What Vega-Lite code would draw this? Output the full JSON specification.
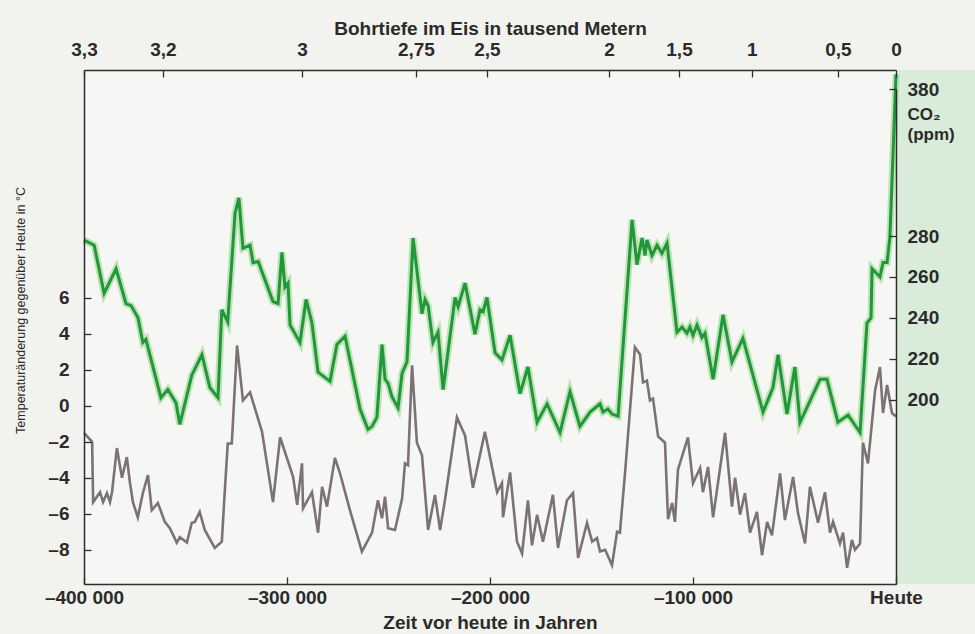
{
  "$schema": "https://vega.github.io/schema/vega-lite/v6.json",
  "width": 812,
  "height": 514,
  "autosize": {"type": "none"},
  "padding": {"left": 84, "top": 70, "right": 79, "bottom": 50},
  "background": "#f2f2ef",
  "config": {
    "view": {"stroke": null, "fill": "#f6f6f4"},
    "axis": {
      "grid": false,
      "domainColor": "#2e2e2e",
      "domainWidth": 1.5,
      "tickColor": "#2e2e2e",
      "tickWidth": 1.3,
      "tickSize": -7,
      "labelFont": "Liberation Sans",
      "labelFontWeight": "bold",
      "labelFontSize": 19,
      "labelColor": "#2b2b2b",
      "titleFont": "Liberation Sans",
      "titleFontWeight": "bold",
      "titleFontSize": 19,
      "titleColor": "#2b2b2b",
      "labelFlush": false,
      "labelOverlap": false,
      "labelBound": false
    }
  },
  "datasets": {
    "temp": [
      {"t": -400000, "temp": -1.5}, {"t": -396000, "temp": -2.0}, {"t": -395500, "temp": -5.35}, {"t": -392100, "temp": -4.8},
      {"t": -390600, "temp": -5.35}, {"t": -388700, "temp": -4.85}, {"t": -387200, "temp": -5.35}, {"t": -386200, "temp": -4.8},
      {"t": -383800, "temp": -2.35}, {"t": -381300, "temp": -4.0}, {"t": -378900, "temp": -2.85}, {"t": -377400, "temp": -4.25},
      {"t": -375900, "temp": -5.35}, {"t": -373500, "temp": -6.2}, {"t": -371000, "temp": -4.85}, {"t": -368500, "temp": -3.85},
      {"t": -366600, "temp": -5.8}, {"t": -363600, "temp": -5.4}, {"t": -360200, "temp": -6.45}, {"t": -357700, "temp": -6.8},
      {"t": -354300, "temp": -7.6}, {"t": -352800, "temp": -7.3}, {"t": -349300, "temp": -7.6}, {"t": -346900, "temp": -6.5},
      {"t": -345400, "temp": -6.45}, {"t": -343000, "temp": -5.9}, {"t": -340500, "temp": -6.9}, {"t": -335600, "temp": -7.9},
      {"t": -332100, "temp": -7.55}, {"t": -330700, "temp": -4.85}, {"t": -329200, "temp": -2.1}, {"t": -327200, "temp": -2.1},
      {"t": -324600, "temp": 3.35}, {"t": -321700, "temp": 0.3}, {"t": -318200, "temp": 0.75}, {"t": -312300, "temp": -1.45},
      {"t": -306900, "temp": -5.35}, {"t": -303400, "temp": -1.75}, {"t": -297000, "temp": -3.95}, {"t": -295000, "temp": -5.5},
      {"t": -292600, "temp": -3.2}, {"t": -292100, "temp": -5.7}, {"t": -287700, "temp": -4.8}, {"t": -284700, "temp": -7.05},
      {"t": -282700, "temp": -4.5}, {"t": -280300, "temp": -5.6}, {"t": -276400, "temp": -2.9}, {"t": -273900, "temp": -3.75},
      {"t": -269000, "temp": -5.8}, {"t": -263100, "temp": -8.1}, {"t": -258100, "temp": -7.05}, {"t": -255200, "temp": -5.25},
      {"t": -253200, "temp": -6.25}, {"t": -251700, "temp": -5.05}, {"t": -250200, "temp": -6.8}, {"t": -246800, "temp": -6.9},
      {"t": -243300, "temp": -5.15}, {"t": -241900, "temp": -3.2}, {"t": -240400, "temp": -3.3}, {"t": -238400, "temp": 2.25},
      {"t": -236000, "temp": -2.05}, {"t": -233500, "temp": -2.75}, {"t": -230500, "temp": -6.9}, {"t": -227100, "temp": -4.95},
      {"t": -224600, "temp": -6.9}, {"t": -222200, "temp": -5.25}, {"t": -216300, "temp": -0.65}, {"t": -212300, "temp": -1.65},
      {"t": -208400, "temp": -4.55}, {"t": -202500, "temp": -1.45}, {"t": -196500, "temp": -4.8}, {"t": -194100, "temp": -4.3},
      {"t": -193600, "temp": -6.2}, {"t": -190100, "temp": -3.7}, {"t": -186700, "temp": -7.55}, {"t": -184200, "temp": -8.2},
      {"t": -181300, "temp": -5.25}, {"t": -179300, "temp": -7.75}, {"t": -176800, "temp": -6.05}, {"t": -173900, "temp": -7.55},
      {"t": -169000, "temp": -4.95}, {"t": -166500, "temp": -7.9}, {"t": -162100, "temp": -5.25}, {"t": -159100, "temp": -4.85},
      {"t": -156600, "temp": -8.45}, {"t": -152200, "temp": -6.5}, {"t": -149700, "temp": -7.55}, {"t": -147300, "temp": -7.35},
      {"t": -145800, "temp": -8.1}, {"t": -143300, "temp": -8.0}, {"t": -139900, "temp": -8.85}, {"t": -137400, "temp": -7.0},
      {"t": -136000, "temp": -7.05}, {"t": -133500, "temp": -3.75}, {"t": -128600, "temp": 3.25}, {"t": -126100, "temp": 2.85},
      {"t": -124600, "temp": 1.3}, {"t": -122700, "temp": 1.4}, {"t": -121200, "temp": 0.3}, {"t": -119700, "temp": 0.4},
      {"t": -117200, "temp": -1.7}, {"t": -113800, "temp": -2.05}, {"t": -112300, "temp": -6.3}, {"t": -110300, "temp": -5.4},
      {"t": -108900, "temp": -6.45}, {"t": -107400, "temp": -3.55}, {"t": -102500, "temp": -1.75}, {"t": -100000, "temp": -4.3},
      {"t": -96500, "temp": -3.45}, {"t": -95100, "temp": -4.8}, {"t": -92600, "temp": -3.4}, {"t": -90100, "temp": -6.2},
      {"t": -84200, "temp": -1.5}, {"t": -80800, "temp": -5.6}, {"t": -79300, "temp": -4.0}, {"t": -76800, "temp": -6.05},
      {"t": -74400, "temp": -4.85}, {"t": -71900, "temp": -7.05}, {"t": -68500, "temp": -5.9}, {"t": -66000, "temp": -8.3},
      {"t": -63500, "temp": -6.45}, {"t": -61100, "temp": -7.2}, {"t": -57100, "temp": -3.75}, {"t": -54700, "temp": -6.35},
      {"t": -50700, "temp": -3.95}, {"t": -48300, "temp": -5.95}, {"t": -44800, "temp": -7.65}, {"t": -42400, "temp": -4.5},
      {"t": -38400, "temp": -6.5}, {"t": -35000, "temp": -4.8}, {"t": -32500, "temp": -7.05}, {"t": -31000, "temp": -6.45},
      {"t": -27600, "temp": -7.65}, {"t": -26100, "temp": -7.05}, {"t": -24100, "temp": -9.0}, {"t": -21700, "temp": -7.45},
      {"t": -20200, "temp": -8.0}, {"t": -17700, "temp": -7.65}, {"t": -16300, "temp": -2.05}, {"t": -13800, "temp": -3.2},
      {"t": -10300, "temp": 0.85}, {"t": -7900, "temp": 2.15}, {"t": -6400, "temp": -0.4}, {"t": -4400, "temp": 1.15},
      {"t": -2000, "temp": -0.4}, {"t": 0, "temp": -0.6}
    ],
    "co2": [
      {"t": -400000, "co2": 278}, {"t": -395000, "co2": 275.5}, {"t": -390100, "co2": 252}, {"t": -384200, "co2": 264},
      {"t": -379300, "co2": 247}, {"t": -376800, "co2": 246}, {"t": -373400, "co2": 240}, {"t": -371000, "co2": 228},
      {"t": -369500, "co2": 229.5}, {"t": -362100, "co2": 201}, {"t": -358700, "co2": 205}, {"t": -354700, "co2": 198.5},
      {"t": -352800, "co2": 188}, {"t": -346900, "co2": 212}, {"t": -341900, "co2": 222}, {"t": -338000, "co2": 206},
      {"t": -334000, "co2": 201}, {"t": -332100, "co2": 244}, {"t": -329200, "co2": 238}, {"t": -325600, "co2": 295.5},
      {"t": -323700, "co2": 306}, {"t": -321700, "co2": 274}, {"t": -318200, "co2": 275.5}, {"t": -316700, "co2": 267},
      {"t": -314200, "co2": 267.5}, {"t": -306900, "co2": 248}, {"t": -304400, "co2": 247}, {"t": -302500, "co2": 272},
      {"t": -301000, "co2": 255}, {"t": -299500, "co2": 257}, {"t": -298500, "co2": 236.5}, {"t": -293600, "co2": 228},
      {"t": -290600, "co2": 249}, {"t": -287700, "co2": 237.5}, {"t": -284700, "co2": 213.5}, {"t": -278800, "co2": 209},
      {"t": -275400, "co2": 227}, {"t": -271400, "co2": 231}, {"t": -264000, "co2": 195.5}, {"t": -260100, "co2": 185.5},
      {"t": -258100, "co2": 187}, {"t": -255700, "co2": 191.5}, {"t": -253200, "co2": 227}, {"t": -251700, "co2": 210},
      {"t": -250200, "co2": 208}, {"t": -248300, "co2": 201.5}, {"t": -245300, "co2": 196}, {"t": -243300, "co2": 213},
      {"t": -240900, "co2": 218.5}, {"t": -237900, "co2": 279}, {"t": -233500, "co2": 242}, {"t": -232000, "co2": 249},
      {"t": -230500, "co2": 246}, {"t": -228100, "co2": 228}, {"t": -225600, "co2": 233}, {"t": -223100, "co2": 205},
      {"t": -217200, "co2": 250}, {"t": -215700, "co2": 245.5}, {"t": -212300, "co2": 257}, {"t": -207400, "co2": 232},
      {"t": -204900, "co2": 244}, {"t": -203400, "co2": 243}, {"t": -201500, "co2": 250}, {"t": -197500, "co2": 223},
      {"t": -194100, "co2": 219.5}, {"t": -190100, "co2": 231.5}, {"t": -185200, "co2": 203}, {"t": -181300, "co2": 216},
      {"t": -176800, "co2": 189}, {"t": -171900, "co2": 198}, {"t": -165500, "co2": 184}, {"t": -160600, "co2": 204},
      {"t": -155700, "co2": 187}, {"t": -150700, "co2": 194}, {"t": -145800, "co2": 198}, {"t": -144300, "co2": 194},
      {"t": -141900, "co2": 195.5}, {"t": -139900, "co2": 193}, {"t": -136900, "co2": 192}, {"t": -130000, "co2": 291},
      {"t": -127600, "co2": 266}, {"t": -125100, "co2": 279}, {"t": -123600, "co2": 270.5}, {"t": -122700, "co2": 278},
      {"t": -120200, "co2": 270.5}, {"t": -117700, "co2": 275.5}, {"t": -115300, "co2": 271.5}, {"t": -112800, "co2": 276.5},
      {"t": -107900, "co2": 233}, {"t": -105400, "co2": 235.5}, {"t": -103000, "co2": 232.5}, {"t": -101500, "co2": 235.5},
      {"t": -100000, "co2": 231.5}, {"t": -98000, "co2": 236.5}, {"t": -95600, "co2": 230.5}, {"t": -94100, "co2": 232.5},
      {"t": -90100, "co2": 210}, {"t": -85200, "co2": 241.5}, {"t": -80800, "co2": 218.5}, {"t": -75400, "co2": 230},
      {"t": -65500, "co2": 194}, {"t": -60600, "co2": 206}, {"t": -58100, "co2": 222}, {"t": -53700, "co2": 193},
      {"t": -49800, "co2": 216}, {"t": -47300, "co2": 189}, {"t": -37400, "co2": 210}, {"t": -34000, "co2": 210},
      {"t": -28600, "co2": 189}, {"t": -23600, "co2": 192.5}, {"t": -17700, "co2": 184}, {"t": -14300, "co2": 237.5},
      {"t": -12300, "co2": 240}, {"t": -11800, "co2": 264}, {"t": -7900, "co2": 260}, {"t": -6400, "co2": 267},
      {"t": -4400, "co2": 267}, {"t": -3000, "co2": 279.5}, {"t": 0, "co2": 390}
    ],
    "band": [{"t0": 0, "t1": 45000}]
  },
  "layer": [
    {
      "data": {"name": "band"},
      "mark": {"type": "rect", "color": "#d8ecd9"},
      "encoding": {
        "x": {"field": "t0", "type": "quantitative", "axis": null, "scale": {"domain": [-400000, 0], "nice": false, "zero": false}},
        "x2": {"field": "t1"}
      }
    },
    {
      "data": {"name": "temp"},
      "mark": {"type": "line", "color": "#7b7373", "strokeWidth": 2.6},
      "encoding": {
        "x": {
          "field": "t", "type": "quantitative",
          "scale": {"domain": [-400000, 0], "nice": false, "zero": false},
          "axis": {
            "orient": "bottom",
            "zindex": 2,
            "values": [-400000, -300000, -200000, -100000, 0],
            "labelExpr": "datum.value == 0 ? 'Heute' : '–' + (-datum.value / 1000) + ' 000'",
            "labelPadding": 11,
            "title": "Zeit vor heute in Jahren",
            "titlePadding": 6
          }
        },
        "y": {
          "field": "temp", "type": "quantitative",
          "scale": {"domain": [-9.9, 18.65], "nice": false, "zero": false},
          "axis": {
            "orient": "left",
            "zindex": 2,
            "values": [-8, -6, -4, -2, 0, 2, 4, 6],
            "labelExpr": "datum.value < 0 ? '–' + (-datum.value) : '' + datum.value",
            "labelPadding": 22,
            "title": "Temperaturänderung gegenüber Heute in °C",
            "titleFontWeight": "normal",
            "titleFontSize": 12.5,
            "titleX": -64,
            "titleY": 240,
            "titleAngle": -90,
            "titleAlign": "center",
            "titleBaseline": "middle"
          }
        }
      }
    },
    {
      "data": {"name": "co2"},
      "mark": {"type": "line", "color": "#a8dd9f", "strokeWidth": 7, "opacity": 0.75},
      "encoding": {
        "x": {"field": "t", "type": "quantitative", "axis": null, "scale": {"domain": [-400000, 0], "nice": false, "zero": false}},
        "y": {"field": "co2", "type": "quantitative", "axis": null, "scale": {"domain": [110, 280, 380], "range": [514, 166, 19], "nice": false, "zero": false}}
      }
    },
    {
      "data": {"name": "co2"},
      "mark": {"type": "line", "color": "#22963a", "strokeWidth": 3},
      "encoding": {
        "x": {
          "field": "t", "type": "quantitative",
          "scale": {"domain": [-400000, 0], "nice": false, "zero": false},
          "axis": {
            "orient": "top",
            "zindex": 2,
            "values": [-400000, -361100, -292600, -236500, -201500, -141400, -106900, -71000, -28600, 0],
            "labelExpr": "datum.value == -400000 ? '3,3' : datum.value == -361100 ? '3,2' : datum.value == -292600 ? '3' : datum.value == -236500 ? '2,75' : datum.value == -201500 ? '2,5' : datum.value == -141400 ? '2' : datum.value == -106900 ? '1,5' : datum.value == -71000 ? '1' : datum.value == -28600 ? '0,5' : '0'",
            "labelPadding": 18,
            "title": "Bohrtiefe im Eis in tausend Metern",
            "titlePadding": 2
          }
        },
        "y": {
          "field": "co2", "type": "quantitative",
          "scale": {"domain": [110, 280, 380], "range": [514, 166, 19], "nice": false, "zero": false},
          "axis": {
            "orient": "right",
            "zindex": 2,
            "values": [200, 220, 240, 260, 280, 380],
            "labelPadding": 18,
            "title": ["CO₂", "(ppm)"],
            "titleFontSize": 17,
            "titleLineHeight": 20,
            "titleAngle": 0,
            "titleX": 11,
            "titleY": 36,
            "titleAlign": "left",
            "titleBaseline": "top"
          }
        }
      }
    }
  ],
  "resolve": {
    "scale": {"y": "independent"},
    "axis": {"x": "independent", "y": "independent"}
  }
}
